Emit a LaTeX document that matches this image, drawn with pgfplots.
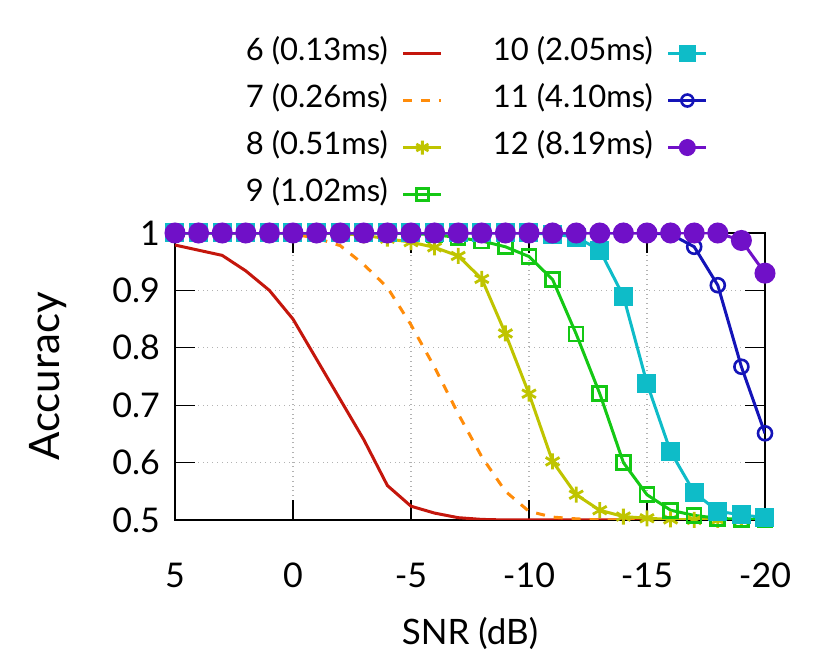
\documentclass[border=0pt]{standalone}
\usepackage{fontspec}
\setmainfont{Lato}
\usepackage{pgfplots}
\pgfplotsset{compat=1.18}

\definecolor{c6}{HTML}{C4160C}
\definecolor{c7}{HTML}{FF8C0A}
\definecolor{c8}{HTML}{BFC400}
\definecolor{c9}{HTML}{14C814}
\definecolor{c10}{HTML}{0EBCC8}
\definecolor{c11}{HTML}{1414B8}
\definecolor{c12}{HTML}{7010C8}

\pgfplotsset{
    s6/.style={c6, no marks},
    s7/.style={c7, no marks, dash pattern=on 4.5pt off 4.5pt},
    s8/.style={c8, mark=asterisk, mark size=4pt, mark options={solid, line width=1.4pt}},
    s9/.style={c9, mark=square, mark size=3.5pt, mark options={solid, line width=1.3pt}},
    s10/.style={c10, mark=square*, mark size=4pt},
    s11/.style={c11, mark=o, mark size=3.5pt, mark options={solid, line width=1.3pt}},
    s12/.style={c12, mark=*, mark size=4.5pt},
}

\begin{document}
\begin{tikzpicture}
\begin{axis}[
    scale only axis,
    width=295pt, height=143.5pt,
    x dir=reverse,
    xmin=-20, xmax=5,
    ymin=0.5, ymax=1,
    xtick={5,0,-5,-10,-15,-20},
    xticklabels={5,0,-5,-10,-15,-20},
    ytick={0.5,0.6,0.7,0.8,0.9,1},
    yticklabels={0.5,0.6,0.7,0.8,0.9,1},
    tick align=inside,
    major tick length=10pt,
    tick style={black, line width=0.6pt},
    axis line style={black, line width=0.8pt},
    grid=major,
    major grid style={gray!60, dotted, line width=0.6pt},
    ticklabel style={font=\fontsize{17}{20}\selectfont},
    xticklabel style={yshift=-18pt},
    yticklabel style={xshift=-4pt},
    xlabel={SNR (dB)},
    ylabel={Accuracy},
    xlabel style={font=\fontsize{17.5}{20}\selectfont, yshift=-8pt},
    ylabel style={font=\fontsize{21}{24}\selectfont, yshift=16pt},
    every axis plot/.append style={line width=1.5pt},
    legend plot pos=right,
    legend cell align=right,
    legend columns=2,
    legend image code/.code={
        \draw[mark repeat=2,mark phase=2,#1]
        plot coordinates {(0pt,0pt) (9.5pt,0pt) (19pt,0pt)};
    },
    legend style={
        draw=none, fill=none,
        at={(0.51,1.063)}, anchor=south,
        font=\fontsize{15.5}{18}\selectfont,
        nodes={inner sep=1pt, text height=10.5pt, text depth=3.5pt},
        row sep=7.5pt,
        /tikz/column 1/.style={column sep=6pt},
        /tikz/column 2/.style={column sep=24pt},
        /tikz/column 3/.style={column sep=6pt},
    },
]
% 6 (0.13ms)
\addplot[s6, forget plot] coordinates {
(5,0.979) (3,0.961) (2,0.934) (1,0.900) (0,0.850) (-3,0.640) (-4,0.560)
(-5,0.524) (-6,0.512) (-7,0.504) (-8,0.501) (-9,0.500) (-10,0.500)
(-12,0.500) (-14,0.500) (-16,0.500) (-18,0.500) (-20,0.500)
};
% 7 (0.26ms)
\addplot[s7, forget plot] coordinates {
(5,1.000) (4,1.000) (3,1.000) (2,1.000) (1,1.000) (0,0.998) (-1,0.991)
(-2,0.978) (-3,0.945) (-4,0.905) (-5,0.840) (-6,0.766) (-7,0.685)
(-8,0.610) (-9,0.550) (-10,0.515) (-11,0.505) (-12,0.502) (-13,0.500)
(-14,0.500) (-16,0.500) (-18,0.500) (-20,0.500)
};
% 8 (0.51ms)
\addplot[s8, forget plot] coordinates {
(5,1.000) (4,1.000) (3,1.000) (2,1.000) (1,1.000) (0,1.000) (-1,1.000)
(-2,0.999) (-3,0.996) (-4,0.990) (-5,0.984) (-6,0.975) (-7,0.960)
(-8,0.920) (-9,0.825) (-10,0.720) (-11,0.602) (-12,0.544) (-13,0.517)
(-14,0.506) (-15,0.503) (-16,0.501) (-17,0.500) (-18,0.500) (-19,0.500)
(-20,0.500)
};
% 9 (1.02ms)
\addplot[s9, forget plot] coordinates {
(5,1.000) (4,1.000) (3,1.000) (2,1.000) (1,1.000) (0,1.000) (-1,1.000)
(-2,1.000) (-3,1.000) (-4,1.000) (-5,0.999) (-6,0.997) (-7,0.992)
(-8,0.986) (-9,0.976) (-10,0.959) (-11,0.919) (-12,0.824) (-13,0.720)
(-14,0.600) (-15,0.544) (-16,0.517) (-17,0.508) (-18,0.503) (-19,0.501)
(-20,0.500)
};
% 10 (2.05ms)
\addplot[s10, forget plot] coordinates {
(5,1.000) (4,1.000) (3,1.000) (2,1.000) (1,1.000) (0,1.000) (-1,1.000)
(-2,1.000) (-3,1.000) (-4,1.000) (-5,1.000) (-6,1.000) (-7,1.000)
(-8,1.000) (-9,1.000) (-10,1.000) (-11,0.998) (-12,0.993) (-13,0.970)
(-14,0.890) (-15,0.738) (-16,0.619) (-17,0.548) (-18,0.515) (-19,0.509)
(-20,0.504)
};
% 11 (4.10ms)
\addplot[s11, forget plot] coordinates {
(5,1.000) (4,1.000) (3,1.000) (2,1.000) (1,1.000) (0,1.000) (-1,1.000)
(-2,1.000) (-3,1.000) (-4,1.000) (-5,1.000) (-6,1.000) (-7,1.000)
(-8,1.000) (-9,1.000) (-10,1.000) (-11,1.000) (-12,1.000) (-13,1.000)
(-14,1.000) (-15,1.000) (-16,0.998) (-17,0.976) (-18,0.909) (-19,0.767)
(-20,0.651)
};
% 12 (8.19ms)
\addplot[s12, forget plot] coordinates {
(5,1.000) (4,1.000) (3,1.000) (2,1.000) (1,1.000) (0,1.000) (-1,1.000)
(-2,1.000) (-3,1.000) (-4,1.000) (-5,1.000) (-6,1.000) (-7,1.000)
(-8,1.000) (-9,1.000) (-10,1.000) (-11,1.000) (-12,1.000) (-13,1.000)
(-14,1.000) (-15,1.000) (-16,1.000) (-17,1.000) (-18,1.000) (-19,0.987)
(-20,0.930)
};
% legend filled column by column, as in the original
\addlegendimage{s6, line width=1.5pt}  \addlegendentry{6 (0.13ms)}
\addlegendimage{s10, line width=1.5pt, mark size=3.5pt} \addlegendentry{10 (2.05ms)}
\addlegendimage{s7, line width=1.5pt}  \addlegendentry{7 (0.26ms)}
\addlegendimage{s11, line width=1.5pt, mark size=3pt} \addlegendentry{11 (4.10ms)}
\addlegendimage{s8, line width=1.5pt, mark size=3.5pt}  \addlegendentry{8 (0.51ms)}
\addlegendimage{s12, line width=1.5pt, mark size=3.5pt} \addlegendentry{12 (8.19ms)}
\addlegendimage{s9, line width=1.5pt, mark size=3pt}  \addlegendentry{9 (1.02ms)}
\end{axis}
\path ([shift={(-87.5pt,-72pt)}]current axis.south west)
    rectangle ([shift={(32.5pt,116.5pt)}]current axis.north east);
\end{tikzpicture}
\end{document}
